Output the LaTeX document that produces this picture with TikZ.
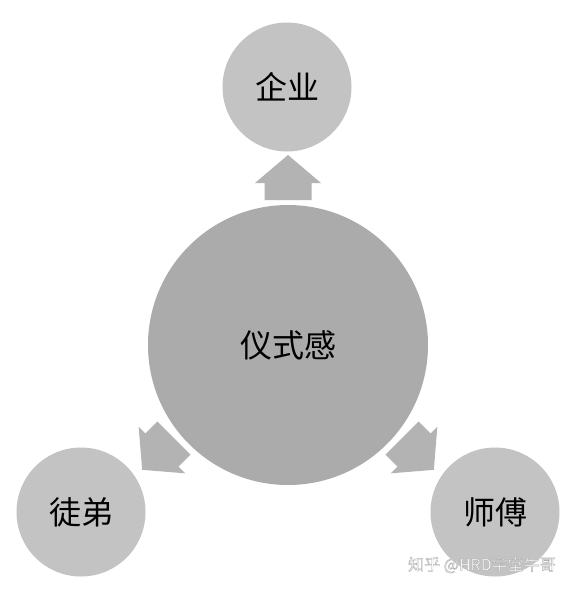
\documentclass[tikz,border=0pt]{standalone}
\usepackage{fontspec}
\newfontfamily\cjk{Noto Sans CJK SC}
\definecolor{hubgray}{HTML}{ABABAB}
\definecolor{rimgray}{HTML}{C3C3C3}
\definecolor{arrowgray}{HTML}{B3B3B3}
\newcommand{\outlinetext}[1]{\special{pdf:literal direct 2 Tr 0.45 w 0.7 G}#1\special{pdf:literal direct 0 Tr}}
\tikzset{
  hub/.style={circle,fill=hubgray,minimum size=280pt,inner sep=0pt,font=\cjk\fontsize{32}{32}\selectfont},
  party/.style={circle,fill=rimgray,minimum size=129pt,inner sep=0pt,font=\cjk\fontsize{32}{32}\selectfont},
  blockarrow/.style={fill=arrowgray}
}
\begin{document}
\begin{tikzpicture}[x=1pt,y=-1pt]
        \useasboundingbox[fill=white](0,0)rectangle(577,590);
        % circles
        \node[hub](ritual)at(288,345){仪式感};
        \node[party](firm)at(287,87){企业};
        \node[party](pupil)at(81,512){徒弟};
        \node[party](master)at(495,512){师傅};

        % block arrows, drawn pointing right and then turned
        \foreach \tx/\ty/\ang in {288/200/90,174/438/225,402/438/-45}{
            \begin{scope}[shift={(\tx,\ty)},rotate=\ang]
                \fill[blockarrow](0,-23.5)--(17,-23.5)--(17,-33)--(45,0)--(17,33)--(17,23.5)--(0,23.5)--cycle;
            \end{scope}
        }

        \node[text=white,font=\cjk\fontsize{16}{16}\selectfont](mark)at(482,565){\outlinetext{知乎\ @HRD学堂牛哥}};
    \end{tikzpicture}
\end{document}
